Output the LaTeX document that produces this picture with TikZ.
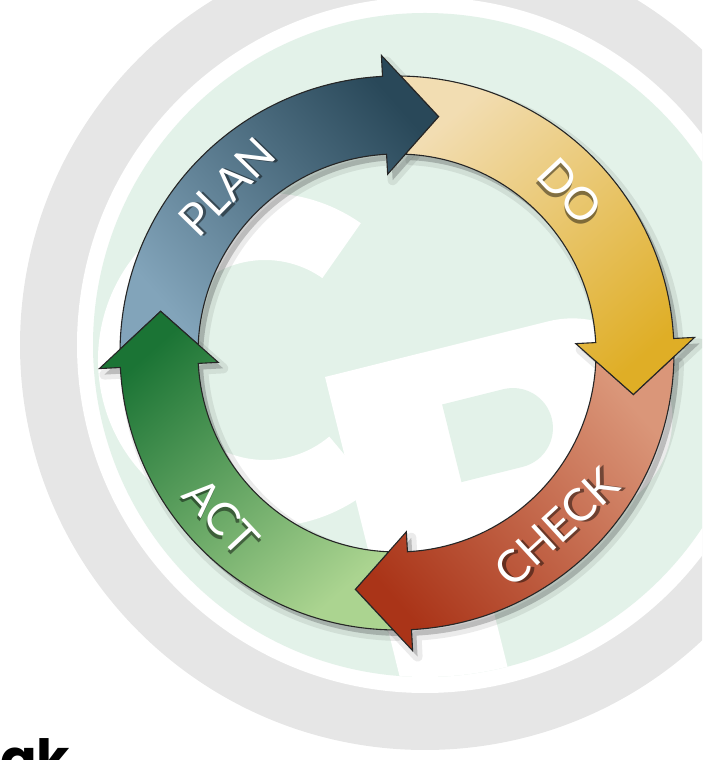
\documentclass[tikz,border=0pt]{standalone}
\usepackage{fontspec}
\setmainfont{Lato}
\newfontfamily\akfont{Poppins}
\definecolor{bggray}{HTML}{E6E6E6}
\definecolor{bggreen}{HTML}{E3F2E9}
\definecolor{planL}{HTML}{82A4BA}
\definecolor{planD}{HTML}{294859}
\definecolor{doL}{HTML}{F2DDB2}
\definecolor{doD}{HTML}{DFAE26}
\definecolor{checkL}{HTML}{DA9679}
\definecolor{checkD}{HTML}{AA3418}
\definecolor{actL}{HTML}{ABD490}
\definecolor{actD}{HTML}{1B7435}
\begin{document}
\begin{tikzpicture}[x=1pt,y=1pt,
  arrowline/.style={draw=black!85,line width=1.1pt,line join=miter},
  lbl/.style={text=white,font=\fontsize{45}{50}\selectfont,inner sep=0pt},
  lblshadow/.style={text=black,opacity=0.45,font=\fontsize{45}{50}\selectfont,inner sep=0pt}]
\useasboundingbox (0,0) rectangle (702,760);
\clip (0,0) rectangle (702,760);
% background watermark
\fill[bggray] (425,415) circle[radius=405];
\fill[white] (425,415) circle[radius=348];
\fill[bggreen] (425,415) circle[radius=332];
\begin{scope}
  \clip (425,415) circle[radius=332];
  \begin{scope}[shift={(265,400)}]
    \fill[white] (55:167) arc[start angle=55,end angle=310,radius=167]
      -- (310:100) arc[start angle=310,end angle=55,radius=100] -- cycle;
  \end{scope}
  \begin{scope}[shift={(325,383)},rotate=14,yscale=-1]
    \fill[white] (0,0) -- (230,0) arc[start angle=-90,end angle=90,radius=100]
      -- (107,200) -- (107,420) -- (0,420) -- cycle;
    \fill[bggreen] (107,55) -- (170,55) arc[start angle=-90,end angle=90,radius=40]
      -- (107,135) -- cycle;
  \end{scope}
\end{scope}
% arrows
\begin{scope}[shift={(397,407)}]
  \foreach \b in {93,3,-87,-177}{
    \begin{scope}[shift={(5,-6)}]
      \fill[black,opacity=0.2] (\b+86.2:277) arc[start angle=\b+86.2,end angle=\b,radius=277]
        -- (\b:298) -- (\b-13:240) -- (\b:179) -- (\b:199)
        arc[start angle=\b,end angle=\b+84.6,radius=199] -- (\b+77:240) -- cycle;
      \draw[black,opacity=0.08,line width=10pt,line join=round] (\b+86.2:277) arc[start angle=\b+86.2,end angle=\b,radius=277]
        -- (\b:298) -- (\b-13:240) -- (\b:179) -- (\b:199)
        arc[start angle=\b,end angle=\b+84.6,radius=199] -- (\b+77:240) -- cycle;
    \end{scope}
  }
  \foreach \b/\lc/\dc/\sa in {93/planL/planD/-48.5,3/doL/doD/-138.5,-87/checkL/checkD/131.5,-177/actL/actD/41.5}{
    \shade[top color=\dc,bottom color=\lc,shading angle=\sa]
      (\b+86.2:277) arc[start angle=\b+86.2,end angle=\b,radius=277]
      -- (\b:298) -- (\b-13:240) -- (\b:179) -- (\b:199)
      arc[start angle=\b,end angle=\b+84.6,radius=199] -- (\b+77:240) -- cycle;
    \draw[arrowline]
      (\b+86.2:277) arc[start angle=\b+86.2,end angle=\b,radius=277]
      -- (\b:298) -- (\b-13:240) -- (\b:179) -- (\b:199)
      arc[start angle=\b,end angle=\b+84.6,radius=199] -- (\b+77:240) -- cycle;
  }
  % label shadows
  \node[lblshadow,rotate=45.7,xshift=2pt,yshift=-3pt] (planS) at (135.7:238) {PLAN};
  \node[lblshadow,rotate=-47,xshift=2pt,yshift=-3pt] (doS) at (43:237) {DO};
  \node[lblshadow,rotate=42.6,xshift=2pt,yshift=-3pt] (checkS) at (-47.4:236) {CHECK};
  \node[lblshadow,rotate=-47,xshift=2pt,yshift=-3pt] (actS) at (-137:240) {ACT};
  % labels
  \node[lbl,rotate=45.7] (plan) at (135.7:238) {PLAN};
  \node[lbl,rotate=-47] (do) at (43:237) {DO};
  \node[lbl,rotate=42.6] (check) at (-47.4:236) {CHECK};
  \node[lbl,rotate=-47] (act) at (-137:240) {ACT};
\end{scope}
\node[anchor=base west,inner sep=0pt,font=\akfont\bfseries\fontsize{54}{60}\selectfont] (ak) at (0,-18) {ak};
\end{tikzpicture}
\end{document}
